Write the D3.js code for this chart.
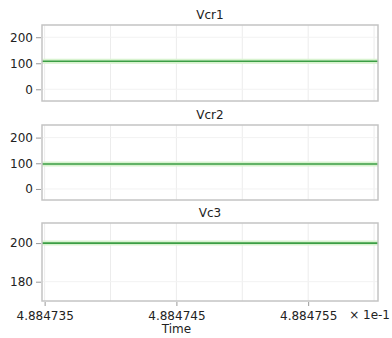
<!DOCTYPE html>
<html>
<head>
<meta charset="utf-8">
<script src="https://cdn.jsdelivr.net/npm/d3@7"></script>
<style>
  body { margin: 0; background: #fff; }
  text { font-family: "DejaVu Sans", Verdana, sans-serif; fill: #222; }
</style>
</head>
<body>
<svg id="chart" width="392" height="338"></svg>
<script>
// time in units of 1e-1 s
var time = [4.8847348, 4.8847603];
var xTicks = [4.884735, 4.884745, 4.884755];
var xGrid = [4.884735, 4.88474, 4.884745, 4.88475, 4.884755, 4.88476];

var titles = ["Vcr1", "Vcr2", "Vc3"];
var vcr1 = [108, 108];
var vcr2 = [97, 97];
var vc3 = [200, 200];
var yTicks = [[0, 100, 200], [0, 100, 200], [180, 200]];
var yDomains = [[-45, 247], [-43, 249], [170, 210.4]];

var series = [vcr1, vcr2, vc3];
var panels = [{top: 25, bottom: 101}, {top: 125, bottom: 200}, {top: 223, bottom: 301}];

var left = 42, right = 378;
var svg = d3.select("#chart");

var x = d3.scaleLinear()
    .domain(d3.extent(time))
    .range([left, right]);

panels.forEach(function(p, i) {
  var y = d3.scaleLinear()
      .domain(yDomains[i])
      .range([p.bottom, p.top]);

  var g = svg.append("g");

  // grid
  g.selectAll(".vgrid")
    .data(xGrid.filter(function(t) { return x(t) > left + 2 && x(t) < right - 2; }))
    .enter().append("line")
      .attr("x1", d => x(d)).attr("x2", d => x(d))
      .attr("y1", p.top).attr("y2", p.bottom)
      .attr("stroke", "#ececec");
  g.selectAll(".hgrid")
    .data(yTicks[i])
    .enter().append("line")
      .attr("x1", left).attr("x2", right)
      .attr("y1", d => y(d)).attr("y2", d => y(d))
      .attr("stroke", "#f2f2f2");

  // series
  var line = d3.line()
      .x((d, j) => x(time[j]))
      .y(d => y(d));
  g.append("path")
      .datum(series[i])
      .attr("d", line)
      .attr("fill", "none")
      .attr("stroke", "#d8f3cf")
      .attr("stroke-width", 5);
  g.append("path")
      .datum(series[i])
      .attr("d", line)
      .attr("fill", "none")
      .attr("stroke", "#3b9e45")
      .attr("stroke-width", 1.6);

  // frame
  g.append("rect")
      .attr("x", left).attr("y", p.top)
      .attr("width", right - left).attr("height", p.bottom - p.top)
      .attr("fill", "none")
      .attr("stroke", "#c4c4c4")
      .attr("stroke-width", 1.5);

  // y axis
  var yAxis = d3.axisLeft(y).tickValues(yTicks[i]).tickSize(5).tickPadding(3).tickSizeOuter(0);
  var ya = g.append("g")
      .attr("transform", "translate(" + (left - 1) + ",0)")
      .call(yAxis);
  ya.select(".domain").remove();
  ya.selectAll("line").attr("stroke", "#999");
  ya.selectAll("text").style("font-size", "12px").attr("fill", "#222");

  // title
  g.append("text")
      .attr("x", (left + right) / 2)
      .attr("y", p.top - 6)
      .attr("text-anchor", "middle")
      .style("font-size", "12px")
      .text(titles[i]);
});

// x axis on the bottom panel
var last = panels[panels.length - 1];
var xAxis = d3.axisBottom(x).tickValues(xTicks).tickFormat(d3.format(".6f")).tickSize(4).tickPadding(5);
var xa = svg.append("g")
    .attr("transform", "translate(0," + (last.bottom + 1) + ")")
    .call(xAxis);
xa.select(".domain").remove();
xa.selectAll("line").attr("stroke", "#999");
xa.selectAll("text").style("font-size", "12px").attr("fill", "#222");

svg.append("text")
    .attr("x", 390)
    .attr("y", 319)
    .attr("text-anchor", "end")
    .style("font-size", "12px")
    .text("\u00d7 1e-1");

svg.append("text")
    .attr("x", x(4.884745))
    .attr("y", 333)
    .attr("text-anchor", "middle")
    .style("font-size", "12px")
    .text("Time");
</script>
</body>
</html>
